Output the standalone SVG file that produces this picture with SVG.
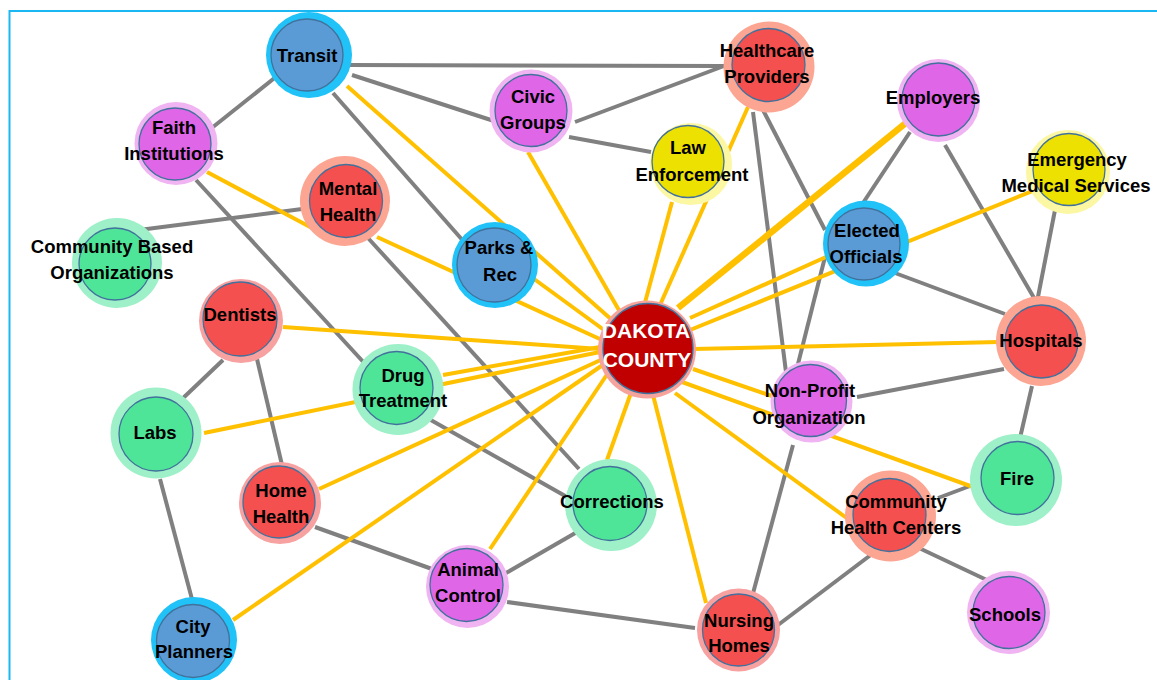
<svg xmlns="http://www.w3.org/2000/svg" width="1157" height="680" viewBox="0 0 1157 680">
<style>
.bg{fill:#ffffff}
.frame{fill:none;stroke:#1ab8f2;stroke-width:2}
.g{stroke:#808080;stroke-width:4;fill:none}
.y{stroke:#ffc000;stroke-width:4;fill:none}
.yt{stroke:#ffc000;stroke-width:6.5;fill:none}
.in{stroke:#41719c;stroke-width:1.3}
.hb{fill:#20c2f8}.ib{fill:#5b9bd5}
.hm{fill:#f0b4f2}.im{fill:#e066e8}
.hr{fill:#fba592}.ir{fill:#f55050}
.hp{fill:#f7a1a1}
.hg{fill:#9df0c8}.ig{fill:#4fe598}
.hy{fill:#fcf7a2}.iy{fill:#ece100}
.hd{fill:#f6a39c}.id{fill:#c00000}
text{font-family:"Liberation Sans",Arial,sans-serif;font-weight:bold;font-size:18.5px;fill:#000;text-anchor:middle}
.dk{fill:#ffffff;font-size:21px}
</style>
<rect class="bg" x="0" y="0" width="1157" height="680"/>
<rect class="frame" x="9.5" y="11" width="1160" height="690"/>

<g id="connectors">
  <!-- gray -->
  <line class="g" x1="277" y1="76" x2="213" y2="127"/>
  <line class="g" x1="349" y1="65" x2="724" y2="66"/>
  <line class="g" x1="352" y1="75" x2="494" y2="121"/>
  <line class="g" x1="333" y1="93" x2="465" y2="243"/>
  <line class="g" x1="575" y1="122" x2="724" y2="66"/>
  <line class="g" x1="569" y1="137" x2="651" y2="152"/>
  <line class="g" x1="196" y1="180" x2="367" y2="366"/>
  <line class="g" x1="302" y1="209" x2="139" y2="230"/>
  <line class="g" x1="368" y1="238" x2="579" y2="469"/>
  <line class="g" x1="223" y1="360" x2="180" y2="401"/>
  <line class="g" x1="257" y1="359" x2="282" y2="465"/>
  <line class="g" x1="160" y1="479" x2="193" y2="603"/>
  <line class="g" x1="315" y1="527" x2="432" y2="569"/>
  <line class="g" x1="429" y1="419" x2="567" y2="497"/>
  <line class="g" x1="506" y1="573" x2="577" y2="532"/>
  <line class="g" x1="507" y1="602" x2="695" y2="628"/>
  <line class="g" x1="752" y1="597" x2="793" y2="445"/>
  <line class="g" x1="778" y1="625" x2="872" y2="554"/>
  <line class="g" x1="919" y1="548" x2="991" y2="582"/>
  <line class="g" x1="938" y1="498" x2="970" y2="486"/>
  <line class="g" x1="1032" y1="386" x2="1020" y2="438"/>
  <line class="g" x1="1004" y1="369" x2="857" y2="397"/>
  <line class="g" x1="895" y1="273" x2="1005" y2="314"/>
  <line class="g" x1="945" y1="145" x2="1037" y2="303"/>
  <line class="g" x1="1055" y1="210" x2="1037" y2="302"/>
  <line class="g" x1="910" y1="132" x2="863" y2="203"/>
  <line class="g" x1="763" y1="110" x2="825" y2="230"/>
  <line class="g" x1="753" y1="112" x2="786" y2="372"/>
  <line class="g" x1="825" y1="257" x2="798" y2="364"/>
  <!-- yellow -->
  <line class="y" x1="207" y1="172" x2="312" y2="228"/>
  <line class="y" x1="377" y1="237" x2="602" y2="340"/>
  <line class="y" x1="347" y1="86" x2="612" y2="320"/>
  <line class="y" x1="530" y1="276" x2="604" y2="330"/>
  <line class="y" x1="283" y1="327" x2="600" y2="349"/>
  <line class="y" x1="204" y1="433" x2="600" y2="352"/>
  <line class="y" x1="443" y1="375" x2="600" y2="347"/>
  <line class="y" x1="319" y1="489" x2="605" y2="358"/>
  <line class="y" x1="233" y1="620" x2="607" y2="362"/>
  <line class="y" x1="490" y1="549" x2="610" y2="370"/>
  <line class="y" x1="607" y1="460" x2="632" y2="390"/>
  <line class="y" x1="653" y1="395" x2="706" y2="603"/>
  <line class="y" x1="675" y1="393" x2="848" y2="519"/>
  <line class="y" x1="682" y1="382" x2="973" y2="487"/>
  <line class="y" x1="693" y1="369" x2="772" y2="396"/>
  <line class="y" x1="693" y1="349" x2="999" y2="342"/>
  <line class="y" x1="1035" y1="190" x2="690" y2="330"/>
  <line class="y" x1="826" y1="257" x2="690" y2="318"/>
  <line class="yt" x1="907" y1="122" x2="678" y2="308"/>
  <line class="y" x1="748" y1="107" x2="660" y2="305"/>
  <line class="y" x1="672" y1="202" x2="643" y2="310"/>
  <line class="y" x1="528" y1="152" x2="620" y2="312"/>
</g>

<g id="transit"><circle class="hb" cx="309" cy="55" r="43"/><circle class="ib in" cx="307" cy="55" r="36"/><text x="307" y="62">Transit</text></g>
<g id="faith"><circle class="hm" cx="176" cy="143.5" r="41.5"/><circle class="im in" cx="175" cy="144" r="36"/><text x="174" y="134">Faith</text><text x="174" y="160">Institutions</text></g>
<g id="mental-health"><circle class="hr" cx="345" cy="201" r="45"/><circle class="ir in" cx="346" cy="201" r="36.5"/><text x="348" y="195">Mental</text><text x="348" y="221">Health</text></g>
<g id="cbo"><circle class="hg" cx="117" cy="263" r="45"/><circle class="ig in" cx="115" cy="264" r="36"/><text x="112" y="253">Community Based</text><text x="112" y="279">Organizations</text></g>
<g id="dentists"><circle class="hp" cx="241" cy="321" r="42"/><circle class="ir in" cx="240" cy="319" r="37"/><text x="240" y="321">Dentists</text></g>
<g id="labs"><circle class="hg" cx="156" cy="433" r="45.5"/><circle class="ig in" cx="156" cy="434" r="37"/><text x="155" y="439">Labs</text></g>
<g id="home-health"><circle class="hp" cx="280" cy="503" r="41"/><circle class="ir in" cx="279" cy="502" r="36"/><text x="281" y="497">Home</text><text x="281" y="523">Health</text></g>
<g id="city-planners"><circle class="hb" cx="194" cy="640" r="43"/><circle class="ib in" cx="193" cy="641" r="36.5"/><text x="193" y="633">City</text><text x="194" y="658">Planners</text></g>
<g id="drug-treatment"><circle class="hg" cx="398" cy="389.5" r="45.5"/><circle class="ig in" cx="396.5" cy="388" r="36.5"/><text x="403" y="382">Drug</text><text x="403" y="407">Treatment</text></g>
<g id="parks-rec"><circle class="hb" cx="495" cy="265" r="43"/><circle class="ib in" cx="494" cy="265" r="37"/><text x="499" y="254">Parks &amp;</text><text x="500" y="281">Rec</text></g>
<g id="civic-groups"><circle class="hm" cx="531" cy="111" r="41.5"/><circle class="im in" cx="531" cy="110.5" r="36"/><text x="533" y="103">Civic</text><text x="533" y="129">Groups</text></g>
<g id="law-enforcement"><circle class="hy" cx="691" cy="164" r="41"/><circle class="iy in" cx="688" cy="161.5" r="36"/><text x="688" y="154">Law</text><text x="692" y="181">Enforcement</text></g>
<g id="healthcare-providers"><circle class="hr" cx="769" cy="67" r="45.5"/><circle class="ir in" cx="768.5" cy="65" r="36.5"/><text x="767" y="57">Healthcare</text><text x="767" y="83">Providers</text></g>
<g id="employers"><circle class="hm" cx="938.5" cy="100.5" r="41.5"/><circle class="im in" cx="938.5" cy="99.5" r="36.5"/><text x="933" y="104">Employers</text></g>
<g id="ems"><circle class="hy" cx="1068" cy="172" r="42"/><circle class="iy in" cx="1069" cy="169.5" r="36"/><text x="1077" y="166">Emergency</text><text x="1076" y="192">Medical Services</text></g>
<g id="elected-officials"><circle class="hb" cx="866" cy="243.5" r="43"/><circle class="ib in" cx="864" cy="244" r="36"/><text x="867" y="237">Elected</text><text x="866" y="263">Officials</text></g>
<g id="hospitals"><circle class="hr" cx="1041" cy="341" r="45"/><circle class="ir in" cx="1041.5" cy="341.5" r="36.5"/><text x="1041" y="347">Hospitals</text></g>
<g id="non-profit"><circle class="hm" cx="811.5" cy="401.5" r="41"/><circle class="im in" cx="810.5" cy="400.5" r="36"/><text x="810" y="397">Non-Profit</text><text x="809" y="424">Organization</text></g>
<g id="fire"><circle class="hg" cx="1016" cy="480" r="46"/><circle class="ig in" cx="1017.5" cy="478" r="36.5"/><text x="1017" y="485">Fire</text></g>
<g id="chc"><circle class="hr" cx="890.5" cy="516" r="45.5"/><circle class="ir in" cx="889.5" cy="515" r="36.5"/><text x="896" y="508">Community</text><text x="896" y="534">Health Centers</text></g>
<g id="schools"><circle class="hm" cx="1008.5" cy="612.5" r="41.5"/><circle class="im in" cx="1009" cy="612.5" r="36"/><text x="1005" y="621">Schools</text></g>
<g id="nursing-homes"><circle class="hp" cx="738.5" cy="630" r="41.5"/><circle class="ir in" cx="738.5" cy="630" r="36"/><text x="739" y="627">Nursing</text><text x="739" y="652">Homes</text></g>
<g id="animal-control"><circle class="hm" cx="467.5" cy="586.5" r="41.5"/><circle class="im in" cx="466.5" cy="585" r="36.5"/><text x="468" y="576">Animal</text><text x="468" y="602">Control</text></g>
<g id="corrections"><circle class="hg" cx="611" cy="505" r="46"/><circle class="ig in" cx="610" cy="503.5" r="37"/><text x="612" y="508">Corrections</text></g>
<g id="dakota-county"><circle class="hd" cx="647" cy="349.5" r="49"/><circle class="id in" cx="648" cy="348.5" r="45"/><text class="dk" x="646" y="338">DAKOTA</text><text class="dk" x="647" y="367">COUNTY</text></g>
</svg>
